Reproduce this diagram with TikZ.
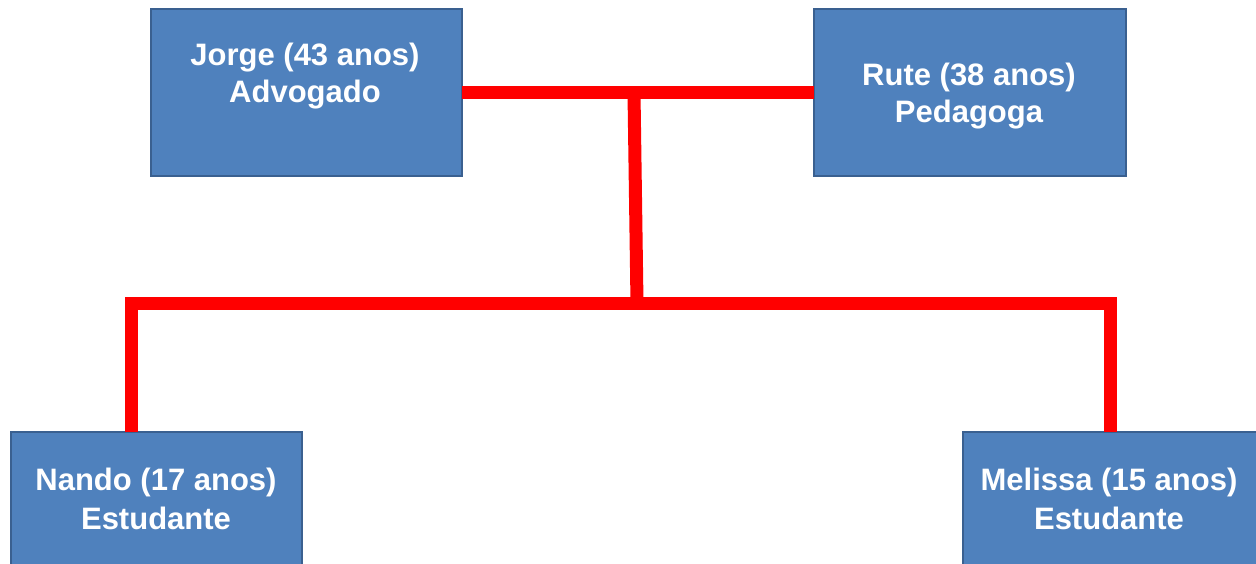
\documentclass[tikz,border=0pt]{standalone}
\usepackage{fontspec}
\setmainfont{Liberation Sans}
\definecolor{boxfill}{HTML}{4F81BD}
\definecolor{boxline}{HTML}{3A6090}
\definecolor{relred}{HTML}{FF0000}
\begin{document}
\begin{tikzpicture}[x=1pt,y=-1pt,
  person/.style={draw=boxline,fill=boxfill,line width=2pt,rectangle,inner sep=0pt,outer sep=0pt},
  txt/.style={text=white,font=\fontsize{31}{37}\selectfont\bfseries,anchor=base,inner sep=0pt},
  rel/.style={draw=relred,line width=13pt,line join=miter}]
\useasboundingbox (0,0) rectangle (1256,564);
\clip (0,0) rectangle (1256,564);
\fill[white] (0,0) rectangle (1256,564);
% boxes
\node[person,minimum width=311pt,minimum height=167pt] (jorge) at (306.5,92.5) {};
\node[person,minimum width=312pt,minimum height=167pt] (rute) at (970,92.5) {};
\node[person,minimum width=291pt,minimum height=200pt] (nando) at (156.5,532) {};
\node[person,minimum width=295pt,minimum height=200pt] (melissa) at (1110.5,532) {};
% texts
\node[txt] (j1) at (305,66) {Jorge (43 anos)};
\node[txt] (j2) at (305,103) {Advogado};
\node[txt] (r1) at (969,86) {Rute (38 anos)};
\node[txt] (r2) at (969,123) {Pedagoga};
\node[txt] (n1) at (156,490) {Nando (17 anos)};
\node[txt] (n2) at (156,529) {Estudante};
\node[txt] (m1) at (1109,490) {Melissa (15 anos)};
\node[txt] (m2) at (1109,529) {Estudante};
% connectors
\coordinate (couple) at (634,93);
\coordinate (kids) at (637,303);
\coordinate (nk) at (131,303);
\coordinate (mk) at (1110,303);
\coordinate (nt) at (131,432);
\coordinate (mt) at (1110,432);
\draw[rel] (jorge.east) -- (rute.west);
\draw[rel] (couple) -- (kids);
\draw[rel] (nt) -- (nk) -- (mk) -- (mt);
\end{tikzpicture}
\end{document}
